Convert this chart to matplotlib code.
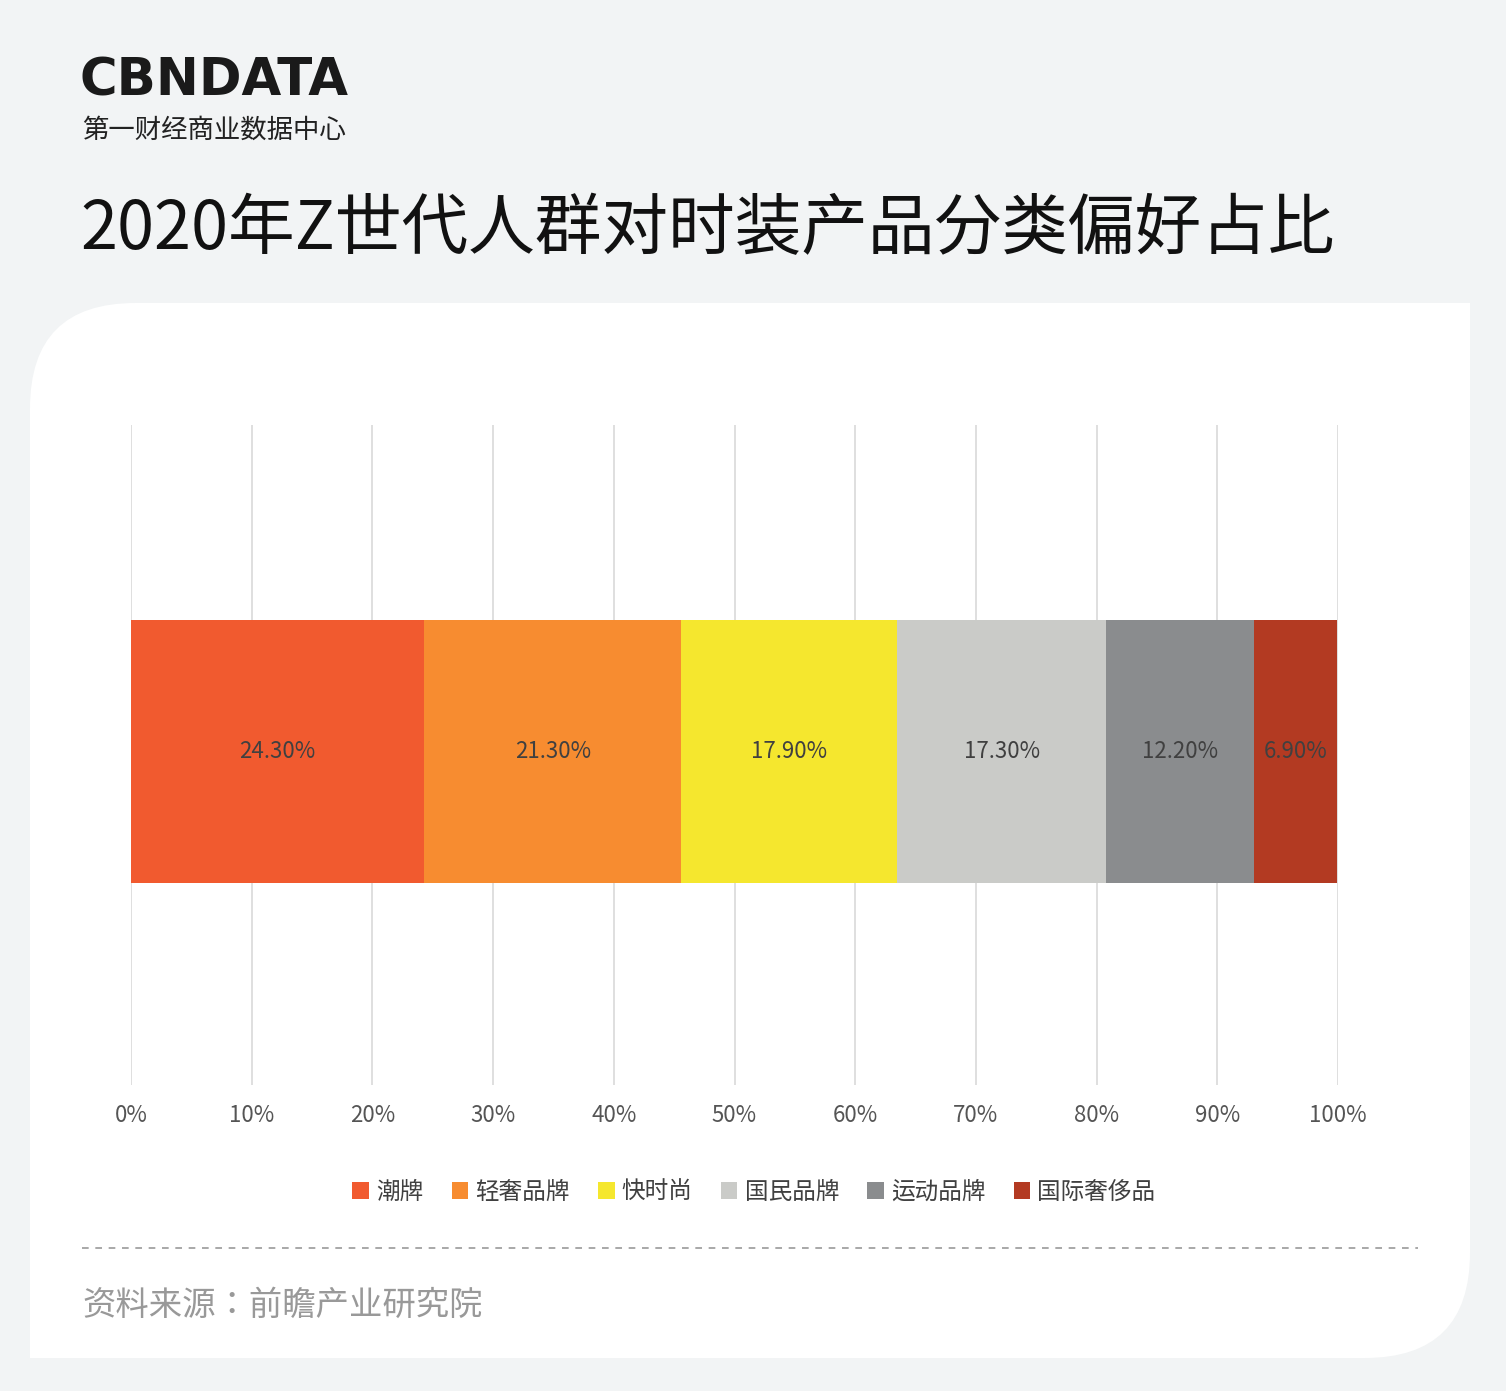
import matplotlib.pyplot as plt
from matplotlib.patches import FancyBboxPatch, Rectangle
import matplotlib.lines as mlines

plt.rcParams["font.family"] = ["Noto Sans CJK JP", "DejaVu Sans"]

categories = ["潮牌", "轻奢品牌", "快时尚", "国民品牌", "运动品牌", "国际奢侈品"]
shares = [24.3, 21.3, 17.9, 17.3, 12.2, 6.9]
colors = ["#f15a2f", "#f78c30", "#f5e72e", "#cacbc8", "#8a8c8e", "#b33a22"]
ticks = list(range(0, 101, 10))

W, H = 1506, 1391
fig = plt.figure(figsize=(W / 100, H / 100), dpi=100)
fig.patch.set_facecolor("#f2f4f5")

def fx(x): return x / W
def fy(y): return 1 - y / H

# white card: rounded top-left and bottom-right corners
card = FancyBboxPatch((fx(30), fy(1358)), fx(1440), (1358 - 303) / H,
                      boxstyle="round,pad=0,rounding_size=0.07",
                      transform=fig.transFigure, facecolor="white", edgecolor="none",
                      mutation_aspect=W / H, zorder=-2)
fig.patches.append(card)
fig.patches.append(Rectangle((fx(1300), fy(500)), fx(170), 197 / H, transform=fig.transFigure,
                             facecolor="white", edgecolor="none", zorder=-1))
fig.patches.append(Rectangle((fx(30), fy(1358)), fx(170), 197 / H, transform=fig.transFigure,
                             facecolor="white", edgecolor="none", zorder=-1))

# header
fig.text(fx(80), fy(82), "CBNDATA", fontsize=37, fontweight="bold", color="#1a1a1a",
         family="DejaVu Sans", va="center", ha="left")
fig.text(fx(82), fy(130), "第一财经商业数据中心", fontsize=19, color="#222222", va="center")
fig.text(fx(80), fy(230), "2020年Z世代人群对时装产品分类偏好占比", fontsize=48,
         color="#111111", va="center")

# chart
ax = fig.add_axes([fx(131), fy(1085), fx(1338 - 131), (1085 - 425) / H], zorder=2)
ax.set_facecolor("none")
ax.set_xlim(0, 100)
ax.set_ylim(0, 660)
left = 0
for cat, v, c in zip(categories, shares, colors):
    ax.barh(333.5, v, left=left, height=263, color=c, label=cat, zorder=2)
    ax.text(left + v / 2, 333.5, f"{v:.2f}%", ha="center", va="center",
            fontsize=16, color="#404040", zorder=3)
    left += v
ax.set_xticks(ticks)
ax.set_xticklabels([f"{t}%" for t in ticks], fontsize=16, color="#555555")
ax.tick_params(axis="x", length=0, pad=14)
ax.set_yticks([])
ax.grid(axis="x", color="#d9d9d9", linewidth=1.2, zorder=1)
for s in ax.spines.values():
    s.set_visible(False)

fig.legend(loc="center", bbox_to_anchor=(fx(754), fy(1192)), ncol=6, frameon=False,
           fontsize=17, handlelength=0.7, handleheight=0.7, handletextpad=0.3,
           columnspacing=1.2, labelcolor="#404040")

fig.add_artist(mlines.Line2D([fx(82), fx(1418)], [fy(1248), fy(1248)],
                             transform=fig.transFigure, color="#999999",
                             linestyle=(0, (4, 4)), linewidth=1.2))
fig.text(fx(82), fy(1305), "资料来源：前瞻产业研究院", fontsize=24, color="#999999", va="center")

fig.savefig("out.png", dpi=100, facecolor=fig.get_facecolor())
